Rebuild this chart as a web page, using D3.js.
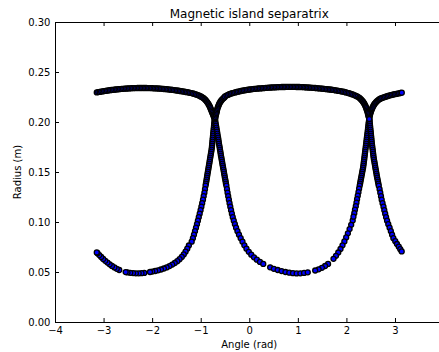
<!DOCTYPE html>
<html><head><meta charset="utf-8">
<script src="https://cdn.jsdelivr.net/npm/d3@7"></script>
<style>body{margin:0;background:#fff}svg{display:block}text{font-family:"DejaVu Sans",sans-serif;fill:#000}</style>
</head><body><svg id="c" width="439" height="352"></svg>
<script>
const xTicks=[-4,-3,-2,-1,0,1,2,3];
const yTicks=[0,0.05,0.10,0.15,0.20,0.25,0.30];
const titleText="Magnetic island separatrix", xLabel="Angle (rad)", yLabel="Radius (m)";

const x1LeftAngle=[-0.714,-0.718,-0.722,-0.726,-0.730,-0.734,-0.739,-0.743,-0.747,-0.751,-0.755,-0.759,-0.763,-0.767,-0.771,-0.776,-0.783,-0.790,-0.797,-0.804,-0.811,-0.817,-0.824,-0.831,-0.838,-0.845,-0.852,-0.859,-0.866,-0.872,-0.879,-0.886,-0.893,-0.900,-0.912,-0.924,-0.939,-0.953,-0.970,-0.986,-1.003,-1.021,-1.040,-1.058,-1.077,-1.097,-1.118,-1.139,-1.161,-1.186];
const x1LeftRadius=[.2023,.2003,.1983,.1963,.1943,.1923,.1903,.1883,.1863,.1843,.1823,.1803,.1783,.1763,.1743,.1723,.1703,.1683,.1663,.1643,.1623,.1603,.1583,.1563,.1543,.1523,.1503,.1483,.1463,.1443,.1423,.1403,.1383,.1363,.1328,.1293,.1258,.1223,.1188,.1153,.1118,.1083,.1048,.1013,.0978,.0943,.0908,.0873,.0838,.0803];

const lowerLeftAngle=[-1.244,-1.277,-1.312,-1.349,-1.390,-1.435,-1.482,-1.534,-1.587,-1.643,-1.701,-1.758,-1.818,-1.878,-1.937,-1.997,-2.044,-2.162,-2.219,-2.277,-2.335,-2.392,-2.450,-2.508,-2.545,-2.677,-2.728,-2.777,-2.827,-2.874,-2.919,-2.965,-3.008,-3.049,-3.088,-3.125,-3.140];
const lowerLeftRadius=[.0765,.0733,.0703,.0676,.0651,.0628,.0608,.0590,.0574,.0559,.0546,.0535,.0525,.0517,.0510,.0504,.0500,.0491,.0488,.0487,.0487,.0489,.0492,.0496,.0499,.0520,.0532,.0546,.0561,.0577,.0594,.0612,.0631,.0650,.0669,.0688,.0696];

const x1RightAngle=[-0.704,-0.698,-0.692,-0.684,-0.677,-0.671,-0.663,-0.657,-0.651,-0.642,-0.636,-0.630,-0.624,-0.616,-0.609,-0.603,-0.595,-0.589,-0.583,-0.574,-0.568,-0.560,-0.554,-0.546,-0.539,-0.531,-0.523,-0.517,-0.509,-0.502,-0.494,-0.486,-0.480,-0.471,-0.459,-0.447,-0.434,-0.420,-0.406,-0.391,-0.375,-0.358,-0.340,-0.319,-0.296,-0.272,-0.243,-0.212,-0.177,-0.140];
const x1RightRadius=[.2023,.2003,.1983,.1963,.1943,.1923,.1903,.1883,.1863,.1843,.1823,.1803,.1783,.1763,.1743,.1723,.1703,.1683,.1663,.1643,.1623,.1603,.1583,.1563,.1543,.1523,.1503,.1483,.1463,.1443,.1423,.1403,.1383,.1363,.1328,.1293,.1258,.1223,.1188,.1153,.1118,.1083,.1048,.1013,.0978,.0943,.0908,.0873,.0838,.0803];

const lowerMidLeftAngle=[-0.101,-0.058,-0.010,0.041,0.097,0.156,0.220,0.288,0.430,0.506,0.585,0.665,0.745,0.824,0.900,0.976,1.052,1.128,1.204];
const lowerMidLeftRadius=[.0767,.0733,.0702,.0673,.0647,.0623,.0601,.0581,.0547,.0532,.0520,.0509,.0500,.0493,.0488,.0486,.0487,.0491,.0497];

const lowerMidRightAngle=[2.129,2.098,2.065,2.030,1.995,1.958,1.919,1.878,1.832,1.785,1.734,1.622,1.561,1.495,1.427,1.357];
const lowerMidRightRadius=[.1016,.0972,.0929,.0887,.0846,.0806,.0767,.0730,.0695,.0662,.0632,.0581,.0560,.0542,.0527,.0515];

const x2LeftAngle=[2.467,2.462,2.456,2.452,2.446,2.442,2.438,2.432,2.427,2.421,2.417,2.411,2.407,2.401,2.397,2.390,2.386,2.380,2.376,2.370,2.366,2.359,2.355,2.349,2.343,2.335,2.327,2.320,2.312,2.304,2.296,2.289,2.281,2.273,2.261,2.248,2.234,2.219,2.207,2.193,2.176,2.162,2.145];
const x2LeftRadius=[.2023,.2003,.1983,.1963,.1943,.1923,.1903,.1883,.1863,.1843,.1823,.1803,.1783,.1763,.1743,.1723,.1703,.1683,.1663,.1643,.1623,.1603,.1583,.1563,.1543,.1523,.1503,.1483,.1463,.1443,.1423,.1403,.1383,.1363,.1333,.1298,.1263,.1228,.1193,.1158,.1123,.1088,.1053];

const x2RightAngle=[2.475,2.479,2.483,2.487,2.491,2.495,2.500,2.504,2.508,2.512,2.516,2.520,2.524,2.530,2.534,2.541,2.545,2.551,2.555,2.561,2.567,2.576,2.582,2.590,2.596,2.604,2.611,2.619,2.625,2.633,2.642,2.650,2.658,2.666,2.683,2.697,2.712,2.726,2.744,2.763,2.780,2.798,2.817,2.837,2.862,2.889,2.915,2.940,2.967,3.006,3.041,3.078,3.109,3.138];
const x2RightRadius=[.2023,.2003,.1983,.1963,.1943,.1923,.1903,.1883,.1863,.1843,.1823,.1803,.1783,.1763,.1743,.1723,.1703,.1683,.1663,.1643,.1623,.1603,.1583,.1563,.1543,.1523,.1503,.1483,.1463,.1443,.1423,.1403,.1383,.1363,.1328,.1293,.1258,.1223,.1188,.1153,.1118,.1083,.1048,.1013,.0978,.0943,.0908,.0873,.0838,.0808,.0780,.0753,.0728,.0706];

const upperRightAngle=[2.477,2.483,2.489,2.497,2.506,2.514,2.524,2.534,2.545,2.557,2.569,2.584,2.598,2.615,2.631,2.650,2.668,2.689,2.710,2.738,2.767,2.796,2.825,2.854,2.882,2.911,2.940,2.969,2.998,3.027,3.055,3.084,3.113,3.140];
const upperRightRadius=[.2053,.2066,.2079,.2092,.2105,.2117,.2129,.2141,.2152,.2163,.2173,.2183,.2192,.2201,.2209,.2217,.2224,.2230,.2235,.2241,.2246,.2251,.2256,.2260,.2264,.2268,.2272,.2275,.2278,.2281,.2284,.2287,.2290,.2293];

const upperLeftAngle=[-3.14,-3.11,-3.08,-3.05,-3.02,-2.99,-2.96,-2.93,-2.90,-2.87,-2.84,-2.81,-2.78,-2.75,-2.72,-2.69,-2.66,-2.63,-2.60,-2.57,-2.54,-2.51,-2.48,-2.45,-2.42,-2.39,-2.36,-2.33,-2.30,-2.27,-2.24,-2.21,-2.18,-2.15,-2.12,-2.09,-2.06,-2.03,-2.00,-1.97,-1.94,-1.91,-1.88,-1.85,-1.82,-1.79,-1.76,-1.73,-1.70,-1.67,-1.64,-1.61,-1.58,-1.55,-1.52,-1.49,-1.46,-1.43,-1.40,-1.37,-1.34,-1.31,-1.28,-1.25,-1.22,-1.19,-1.16,-1.13,-1.10,-1.07,-1.04,-1.01,-0.990,-0.968,-0.947,-0.926,-0.908,-0.891,-0.875,-0.861,-0.846,-0.834,-0.821,-0.809,-0.799,-0.789,-0.778,-0.768,-0.758,-0.747,-0.737,-0.727,-0.717,-0.706];
const upperLeftRadius=[.2296,.2299,.2301,.2304,.2306,.2309,.2311,.2313,.2316,.2318,.2320,.2321,.2323,.2325,.2326,.2328,.2329,.2331,.2332,.2333,.2334,.2335,.2336,.2337,.2338,.2338,.2339,.2339,.2340,.2340,.2340,.2340,.2340,.2340,.2340,.2339,.2339,.2339,.2338,.2337,.2337,.2336,.2335,.2334,.2333,.2332,.2330,.2329,.2328,.2326,.2324,.2323,.2321,.2319,.2317,.2315,.2313,.2310,.2308,.2306,.2303,.2300,.2298,.2295,.2292,.2289,.2285,.2281,.2276,.2271,.2265,.2258,.2253,.2247,.2240,.2232,.2223,.2214,.2204,.2194,.2184,.2173,.2162,.2150,.2138,.2126,.2113,.2101,.2088,.2075,.2063,.2051,.2039,.2027];

const upperMidAngle=[-0.702,-0.696,-0.690,-0.684,-0.677,-0.671,-0.665,-0.659,-0.651,-0.642,-0.632,-0.622,-0.610,-0.597,-0.583,-0.566,-0.550,-0.531,-0.513,-0.50,-0.47,-0.44,-0.41,-0.38,-0.35,-0.32,-0.29,-0.26,-0.23,-0.20,-0.17,-0.14,-0.11,-0.08,-0.05,-0.02,0.01,0.04,0.07,0.10,0.13,0.16,0.19,0.22,0.25,0.28,0.31,0.34,0.37,0.40,0.43,0.46,0.49,0.52,0.55,0.58,0.61,0.64,0.67,0.70,0.73,0.76,0.79,0.82,0.85,0.88,0.91,0.94,0.97,1.00,1.03,1.06,1.09,1.12,1.15,1.18,1.21,1.24,1.27,1.30,1.33,1.36,1.39,1.42,1.45,1.48,1.51,1.54,1.57,1.60,1.63,1.66,1.69,1.72,1.75,1.78,1.81,1.84,1.87,1.90,1.93,1.96,1.99,2.02,2.05,2.08,2.11,2.14,2.17,2.20,2.23,2.261,2.277,2.294,2.310,2.327,2.341,2.355,2.368,2.380,2.390,2.401,2.409,2.417,2.425,2.434,2.440,2.446,2.452,2.458,2.465,2.471];
const upperMidRadius=[.2038,.2051,.2064,.2077,.2090,.2103,.2116,.2129,.2142,.2154,.2166,.2178,.2189,.2200,.2210,.2220,.2229,.2238,.2246,.2256,.2264,.2271,.2278,.2283,.2288,.2292,.2296,.2300,.2303,.2307,.2310,.2313,.2316,.2318,.2321,.2323,.2325,.2327,.2329,.2331,.2332,.2334,.2335,.2336,.2337,.2338,.2339,.2341,.2342,.2343,.2344,.2345,.2346,.2347,.2347,.2348,.2349,.2349,.2350,.2350,.2350,.2351,.2351,.2351,.2351,.2351,.2351,.2351,.2350,.2350,.2350,.2349,.2349,.2348,.2347,.2346,.2345,.2344,.2343,.2342,.2341,.2340,.2338,.2337,.2336,.2334,.2333,.2331,.2329,.2328,.2326,.2325,.2323,.2321,.2319,.2316,.2314,.2311,.2309,.2306,.2303,.2300,.2296,.2292,.2288,.2283,.2278,.2273,.2267,.2260,.2253,.2244,.2237,.2229,.2221,.2212,.2203,.2193,.2183,.2172,.2161,.2150,.2138,.2126,.2114,.2102,.2090,.2078,.2066,.2054,.2042,.2030];

const segments=[
  [x1LeftAngle,x1LeftRadius],[lowerLeftAngle,lowerLeftRadius],
  [x1RightAngle,x1RightRadius],[lowerMidLeftAngle,lowerMidLeftRadius],
  [lowerMidRightAngle,lowerMidRightRadius],[x2LeftAngle,x2LeftRadius],
  [x2RightAngle,x2RightRadius],[upperRightAngle,upperRightRadius],
  [upperLeftAngle,upperLeftRadius],[upperMidAngle,upperMidRadius]
];

const svg=d3.select("#c");
svg.append("rect").attr("width",439).attr("height",352).attr("fill","#fff");
const L=55,R=443.56,T=22,B=322;
const x=d3.scaleLinear().domain([-4,4]).range([L,R]);
const y=d3.scaleLinear().domain([0,0.3]).range([B,T]);

const pts=svg.append("g");
segments.forEach(([a,r])=>{
  pts.append("g").selectAll("circle").data(d3.zip(a,r)).join("circle")
    .attr("cx",d=>x(d[0])).attr("cy",d=>y(d[1])).attr("r",2.5)
    .attr("fill","#0000ff").attr("stroke","#000").attr("stroke-width",1.3);
});

function style(g){
  g.attr("font-family",null).attr("font-size",null);
  g.select(".domain").remove();
  g.selectAll(".tick line").attr("stroke","#000");
  g.selectAll(".tick text").attr("fill","#000").style("font-size","10px");
}
svg.append("g").attr("transform",`translate(0,${B})`)
  .call(d3.axisBottom(x).tickValues(xTicks).tickSize(-4).tickSizeOuter(0).tickPadding(4.6).tickFormat(d3.format("d"))).call(style);
svg.append("g").attr("transform",`translate(0,${T})`)
  .call(d3.axisTop(x).tickValues(xTicks).tickSize(-4).tickSizeOuter(0).tickFormat("")).call(style);
svg.append("g").attr("transform",`translate(${L},0)`)
  .call(d3.axisLeft(y).tickValues(yTicks).tickSize(-4).tickSizeOuter(0).tickPadding(4.6).tickFormat(d3.format(".2f"))).call(style);

svg.append("rect").attr("x",L+0.5).attr("y",T+0.5).attr("width",R-L).attr("height",B-T)
  .attr("fill","none").attr("stroke","#000").attr("stroke-width",1);

svg.append("text").attr("x",(L+R)/2).attr("y",18).attr("text-anchor","middle").style("font-size","12px").text(titleText);
svg.append("text").attr("x",(L+R)/2).attr("y",347.5).attr("text-anchor","middle").style("font-size","10px").text(xLabel);
svg.append("text").attr("transform",`translate(21,${(T+B)/2}) rotate(-90)`).attr("text-anchor","middle").style("font-size","10px").text(yLabel);
</script></body></html>
